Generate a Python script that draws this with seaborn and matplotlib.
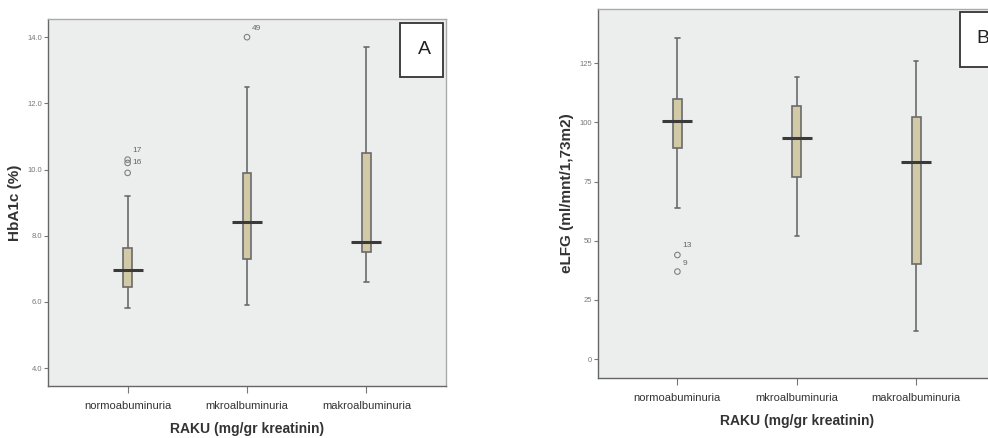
import numpy as np
import pandas as pd
import seaborn as sns
import matplotlib.pyplot as plt
from matplotlib.patches import Rectangle

groups = ["normoabuminuria", "mkroalbuminuria", "makroalbuminuria"]

# five-number summaries: low whisker, Q1, median, Q3, high whisker
hba1c_low = [5.82, 5.92, 6.6]
hba1c_q1 = [6.44, 7.3, 7.52]
hba1c_med = [6.97, 8.42, 7.8]
hba1c_q3 = [7.62, 9.9, 10.5]
hba1c_high = [9.2, 12.5, 13.7]
hba1c_out_grp = ["normoabuminuria", "normoabuminuria", "normoabuminuria", "mkroalbuminuria"]
hba1c_out_val = [9.9, 10.2, 10.3, 14.0]
hba1c_out_lbl = ["", "16", "17", "49"]
hba1c_lbl_y = [0, 10.2, 10.58, 14.25]

elfg_low = [64.0, 52.0, 12.0]
elfg_q1 = [89.0, 77.0, 40.0]
elfg_med = [100.5, 93.6, 83.4]
elfg_q3 = [110.0, 106.8, 102.3]
elfg_high = [135.8, 119.0, 125.8]
elfg_out_grp = ["normoabuminuria", "normoabuminuria"]
elfg_out_val = [44.0, 37.0]
elfg_out_lbl = ["13", "9"]
elfg_lbl_y = [48.0, 40.5]

bg = "#eceeee"
fill = "#d9cfa0"
edge = "#6a6a6a"

sns.set_theme(style="white")
plt.rcParams["font.family"] = ["Liberation Sans", "DejaVu Sans"]


def summary_frame(low, q1, med, q3, high):
    rows = []
    for g, a, b, c, d, e in zip(groups, low, q1, med, q3, high):
        for v in (a, b, c, d, e):
            rows.append({"group": g, "value": v})
    return pd.DataFrame(rows)


def panel(ax, low, q1, med, q3, high, og, ov, ol, oy, ylabel, yticks, ylim, fmt, box, letter):
    df = summary_frame(low, q1, med, q3, high)
    sns.boxplot(data=df, x="group", y="value", order=groups, ax=ax, whis=(0, 100),
                width=0.075, color=fill, linecolor=edge, linewidth=1.2,
                medianprops={"visible": False}, showfliers=False)
    md = pd.DataFrame({"group": groups, "value": med})
    sns.stripplot(data=md, x="group", y="value", order=groups, ax=ax, jitter=False,
                  marker="_", s=22, linewidth=2.2, color="#3a3a3a", zorder=5)
    od = pd.DataFrame({"group": og, "value": ov})
    sns.stripplot(data=od, x="group", y="value", order=groups, ax=ax, jitter=False,
                  marker="o", s=4, facecolor="none", edgecolor="#808080", linewidth=0.8,
                  zorder=5)
    for g, y, t in zip(og, oy, ol):
        if t:
            ax.text(groups.index(g) + 0.04, y, t, fontsize=6, color="#666666",
                    ha="left", va="center")
    ax.set_facecolor(bg)
    ax.set_xlim(-0.667, 2.667)
    ax.set_ylim(*ylim)
    ax.set_yticks(yticks)
    ax.set_yticklabels([fmt.format(t) for t in yticks], fontsize=5.5, color="#777777")
    ax.tick_params(axis="y", length=3, width=0.8, color="#777777", pad=1, left=True)
    ax.tick_params(axis="x", length=5, width=0.8, color="#777777", labelsize=8,
                   labelcolor="#333333", bottom=True, pad=6)
    ax.set_xlabel("RAKU (mg/gr kreatinin)", fontsize=10, fontweight="bold",
                  color="#333333", labelpad=8)
    ax.set_ylabel(ylabel, fontsize=11, fontweight="bold", color="#333333", labelpad=4)
    for side in ["left", "bottom"]:
        ax.spines[side].set_color("#666666")
        ax.spines[side].set_linewidth(1.0)
    for side in ["top", "right"]:
        ax.spines[side].set_color("#aaaaaa")
        ax.spines[side].set_linewidth(1.0)
    ax.add_patch(Rectangle((box[0], box[1]), box[2], box[3], transform=ax.transAxes,
                           facecolor="white", edgecolor="#333333", linewidth=1.3,
                           clip_on=False, zorder=6))
    ax.text(letter[0], letter[1], letter[2], transform=ax.transAxes, fontsize=14,
            ha="center", va="center", color="#222222", zorder=7)


fig = plt.figure(figsize=(9.88, 4.38), dpi=100)
ax1 = fig.add_axes([0.0486, 0.1187, 0.4028, 0.838])
ax2 = fig.add_axes([0.605, 0.1377, 0.403, 0.842])

panel(ax1, hba1c_low, hba1c_q1, hba1c_med, hba1c_q3, hba1c_high,
      hba1c_out_grp, hba1c_out_val, hba1c_out_lbl, hba1c_lbl_y, "HbA1c (%)",
      [4.0, 6.0, 8.0, 10.0, 12.0, 14.0], (3.46, 14.55), "{:.1f}",
      (0.884, 0.842, 0.108, 0.148), (0.947, 0.916, "A"))
panel(ax2, elfg_low, elfg_q1, elfg_med, elfg_q3, elfg_high,
      elfg_out_grp, elfg_out_val, elfg_out_lbl, elfg_lbl_y, "eLFG (ml/mnt/1,73m2)",
      [0, 25, 50, 75, 100, 125], (-7.8, 147.9), "{:.0f}",
      (0.911, 0.8435, 0.108, 0.1475), (0.967, 0.921, "B"))

fig.savefig("out.png", dpi=100)
